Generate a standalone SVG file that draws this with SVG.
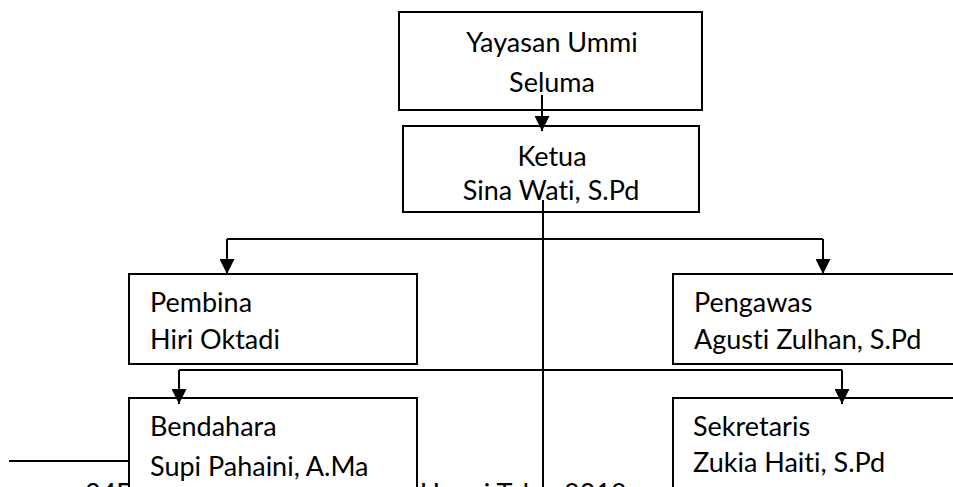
<svg xmlns="http://www.w3.org/2000/svg" width="953" height="487" viewBox="0 0 953 487">
<style>
text{font-family:Lato,"Open Sans","Liberation Sans",sans-serif;font-size:27px;fill:#000;font-variant-ligatures:none}
.box{fill:#fff;stroke:#000;stroke-width:2}
.c{text-anchor:middle}
.ln{fill:none;stroke:#000;stroke-width:2}
</style>
<defs>
<marker id="ah" viewBox="0 0 15 15" refX="15" refY="7.5" markerWidth="15" markerHeight="15" markerUnits="userSpaceOnUse" orient="auto">
<path d="M0,0 L15,7.5 L0,15 Z" fill="#000"/>
</marker>
</defs>
<g id="footer">
<text x="85" y="503">34D</text>
<text x="420" y="503">Ummi Tahun</text>
<text x="564" y="503">2018</text>
</g>
<g id="yayasan">
<rect class="box" x="399" y="12" width="303" height="98"/>
<text class="c" x="552" y="52">Yayasan Ummi</text>
<text class="c" x="552" y="92">Seluma</text>
</g>
<g id="ketua">
<rect class="box" x="403" y="126" width="296" height="86"/>
<text class="c" x="552" y="166">Ketua</text>
<text class="c" x="551" y="200">Sina Wati, S.Pd</text>
</g>
<g id="pembina">
<rect class="box" x="129" y="274" width="288" height="90"/>
<text x="150" y="312">Pembina</text>
<text x="150" y="349">Hiri Oktadi</text>
</g>
<g id="pengawas">
<rect class="box" x="673" y="274" width="300" height="90"/>
<text x="694" y="312">Pengawas</text>
<text x="694" y="349">Agusti Zulhan, S.Pd</text>
</g>
<g id="bendahara">
<rect class="box" x="129" y="398" width="288" height="110"/>
<text x="150" y="436">Bendahara</text>
<text x="150" y="476">Supi Pahaini, A.Ma</text>
</g>
<g id="sekretaris">
<rect class="box" x="673" y="398" width="300" height="110"/>
<text x="693" y="436">Sekretaris</text>
<text x="693" y="472">Zukia Haiti, S.Pd</text>
</g>
<g id="connectors">
<line class="ln" x1="542" y1="95" x2="542" y2="131" marker-end="url(#ah)"/>
<line class="ln" x1="543" y1="200" x2="543" y2="490"/>
<polyline class="ln" points="227,239 823,239"/>
<line class="ln" x1="227" y1="239" x2="227" y2="274" marker-end="url(#ah)"/>
<line class="ln" x1="823" y1="239" x2="823" y2="274" marker-end="url(#ah)"/>
<polyline class="ln" points="179,370 842,370"/>
<line class="ln" x1="179" y1="370" x2="179" y2="404" marker-end="url(#ah)"/>
<line class="ln" x1="842" y1="370" x2="842" y2="404" marker-end="url(#ah)"/>
<line class="ln" x1="9" y1="461" x2="129" y2="461"/>
</g>
</svg>
